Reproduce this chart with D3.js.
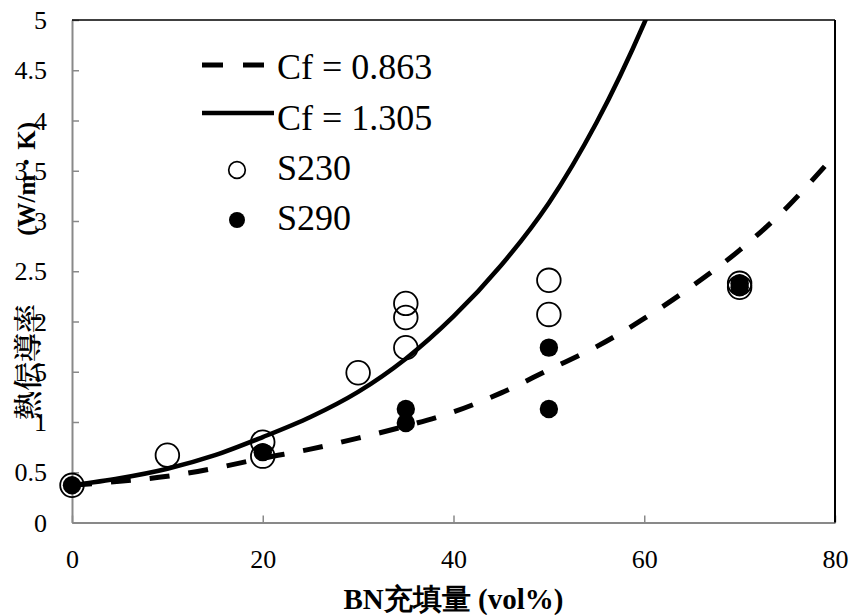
<!DOCTYPE html>
<html><head><meta charset="utf-8">
<script src="https://cdn.jsdelivr.net/npm/d3@7"></script>
</head><body style="margin:0">
<svg id="c" width="853" height="615" font-family="Liberation Serif"></svg>
<script>
// ---- data ----
const curveX      = [0, 5, 10, 15, 20, 25, 30, 35, 40, 45, 50, 55, 60, 65, 70, 75, 80];
const cf0863      = [0.37, 0.41, 0.46, 0.54, 0.64, 0.73, 0.84, 0.96, 1.10, 1.29, 1.52, 1.75, 2.03, 2.35, 2.71, 3.14, 3.66];
const cf1305X     = [0, 5, 10, 15, 20, 25, 30, 35, 40, 45, 50, 55, 60, 62];
const cf1305      = [0.37, 0.44, 0.535, 0.67, 0.85, 1.05, 1.30, 1.63, 2.05, 2.56, 3.18, 3.98, 4.97, 5.45];
const s230X       = [0, 10, 20, 20, 30, 35, 35, 35, 50, 50, 70, 70];
const s230Y       = [0.37, 0.67, 0.80, 0.66, 1.49, 2.18, 2.04, 1.74, 2.41, 2.07, 2.34, 2.38];
const s290X       = [0, 20, 35, 35, 50, 50, 70, 70];
const s290Y       = [0.37, 0.70, 1.13, 0.99, 1.74, 1.13, 2.34, 2.38];
const xTicks      = [0, 20, 40, 60, 80];
const yTicks      = [0, 0.5, 1, 1.5, 2, 2.5, 3, 3.5, 4, 4.5, 5];
const legendLabels = ["Cf = 0.863", "Cf = 1.305", "S230", "S290"];
const xTitle      = "BN充填量 (vol%)";
const yTitleJa    = "熱伝導率";
const yTitleUnit  = " (W/m・K)";

// ---- layout ----
const L = 72, R = 835, T = 20, B = 522.5;
const FAM = "Liberation Serif";
const svg = d3.select("#c");
const x = d3.scaleLinear().domain([0, 80]).range([L, R]);
const y = d3.scaleLinear().domain([0, 5]).range([B, T]);
const setFont = (sel, size, weight) => sel
  .attr("font-family", FAM).style("font-family", `"${FAM}"`)
  .attr("font-size", size).attr("font-weight", weight || "normal");

svg.append("defs").append("clipPath").attr("id", "clip")
  .append("rect").attr("x", L).attr("y", T).attr("width", R - L).attr("height", B - T);

// axes
const gy = svg.append("g").attr("transform", `translate(${L},0)`)
  .call(d3.axisLeft(y).tickValues(yTicks).tickSizeInner(-7).tickSizeOuter(0).tickPadding(25).tickFormat(d => String(d)));
const gx = svg.append("g").attr("transform", `translate(0,${B})`)
  .call(d3.axisBottom(x).tickValues(xTicks).tickSizeInner(-7).tickSizeOuter(0).tickPadding(27).tickFormat(d => String(d)));
[gx, gy].forEach(g => {
  g.attr("font-family", FAM).attr("font-size", 26);
  g.select(".domain").attr("stroke", "#898989").attr("stroke-width", 2);
  g.selectAll(".tick line").attr("stroke", "#898989").attr("stroke-width", 1.5);
  setFont(g.selectAll(".tick text").attr("fill", "#000"), 26);
});
gy.selectAll(".tick text").attr("dy", "0.33em");

// top / right borders
svg.append("line").attr("x1", L).attr("x2", R).attr("y1", T).attr("y2", T).attr("stroke", "#000").attr("stroke-width", 1.5);
svg.append("line").attr("x1", R).attr("x2", R).attr("y1", T).attr("y2", B).attr("stroke", "#000").attr("stroke-width", 2);

// curves
const plot = svg.append("g").attr("clip-path", "url(#clip)");
const line = d3.line().x(d => x(d[0])).y(d => y(d[1])).curve(d3.curveCatmullRom.alpha(0.5));
plot.append("path").datum(curveX.map((v, i) => [v, cf0863[i]]))
  .attr("d", line).attr("fill", "none").attr("stroke", "#000").attr("stroke-width", 5)
  .attr("stroke-dasharray", "20,19");
plot.append("path").datum(cf1305X.map((v, i) => [v, cf1305[i]]))
  .attr("d", line).attr("fill", "none").attr("stroke", "#000").attr("stroke-width", 4.5);

// points
svg.append("g").selectAll("circle").data(s230X.map((v, i) => [v, s230Y[i]])).join("circle")
  .attr("cx", d => x(d[0])).attr("cy", d => y(d[1])).attr("r", 11.8)
  .attr("fill", "none").attr("stroke", "#000").attr("stroke-width", 1.8);
svg.append("g").selectAll("circle").data(s290X.map((v, i) => [v, s290Y[i]])).join("circle")
  .attr("cx", d => x(d[0])).attr("cy", d => y(d[1])).attr("r", 9.2)
  .attr("fill", "#000");

// legend
const rowBase = [79, 130, 180, 230];
const symOff = [14, 17, 10, 10];
legendLabels.forEach((lab, i) => {
  const by = rowBase[i], sy = by - symOff[i];
  if (i === 0) {
    svg.append("line").attr("x1", 202).attr("x2", 266).attr("y1", sy).attr("y2", sy)
      .attr("stroke", "#000").attr("stroke-width", 5).attr("stroke-dasharray", "21,20");
  } else if (i === 1) {
    svg.append("line").attr("x1", 202).attr("x2", 274).attr("y1", sy).attr("y2", sy)
      .attr("stroke", "#000").attr("stroke-width", 4.5);
  } else if (i === 2) {
    svg.append("circle").attr("cx", 237).attr("cy", sy).attr("r", 8.3)
      .attr("fill", "none").attr("stroke", "#000").attr("stroke-width", 1.7);
  } else {
    svg.append("circle").attr("cx", 237).attr("cy", sy).attr("r", 8).attr("fill", "#000");
  }
  setFont(svg.append("text").attr("x", 277).attr("y", by).attr("fill", "#000"), 36).text(lab);
});

// axis titles
setFont(svg.append("text").attr("x", (L + R) / 2).attr("y", 609).attr("text-anchor", "middle"), 29, "bold").text(xTitle);

const yt = setFont(svg.append("text").attr("transform", "translate(26,420) rotate(-90)")
  .attr("text-anchor", "start").attr("dominant-baseline", "central").attr("fill", "#000"), 25, "bold");
yt.append("tspan").text(yTitleJa).attr("font-family", "Noto Serif CJK JP").style("font-family", '"Noto Serif CJK JP"')
  .attr("font-size", 29).attr("font-weight", 600);
yt.append("tspan").attr("dx", 62).text(yTitleUnit)
  .attr("font-family", FAM).attr("font-size", 25).attr("font-weight", "bold");
</script>
</body></html>
